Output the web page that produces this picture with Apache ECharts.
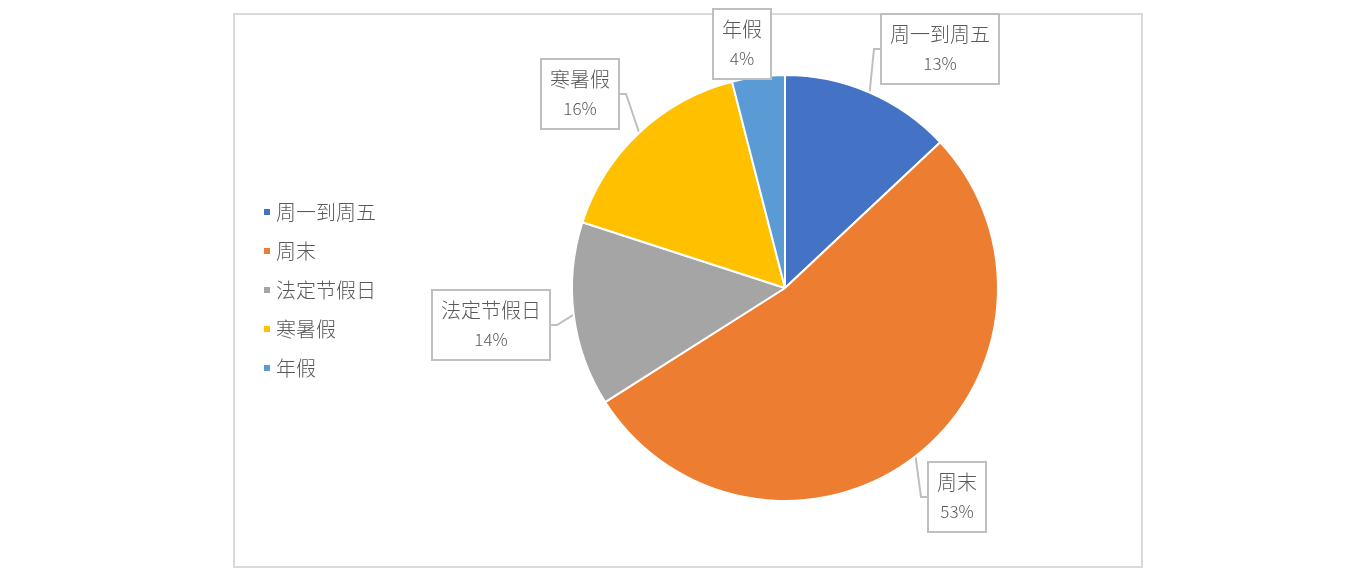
<!DOCTYPE html>
<html>
<head>
<meta charset="utf-8">
<script src="https://cdn.jsdelivr.net/npm/echarts@6/dist/echarts.min.js"></script>
<style>
html,body{margin:0;padding:0;background:#fff;}
#main{width:1352px;height:582px;}
#frame{position:absolute;left:233px;top:13px;width:906px;height:551px;border:2px solid #d9d9d9;}
</style>
</head>
<body>
<div id="frame"></div>
<div id="main" style="position:absolute;left:0;top:0;"></div>
<script>
// 数据
var categories = ['周一到周五', '周末', '法定节假日', '寒暑假', '年假'];
var values = [13, 53, 14, 16, 4];
var colors = ['#4472C4', '#ED7D31', '#A5A5A5', '#FFC000', '#5B9BD5'];

// 标签框中心位置 (像素)
var labelCenters = [[940, 49], [957, 497], [491, 325], [580, 94], [742, 44]];

var chart = echarts.init(document.getElementById('main'));
var font = '"Noto Sans CJK SC", "Microsoft YaHei", sans-serif';

chart.setOption({
  animation: false,
  color: colors,
  legend: {
    orient: 'vertical',
    left: 257,
    top: 197,
    itemWidth: 8,
    itemHeight: 8,
    itemGap: 19,
    icon: 'rect',
    textStyle: { fontFamily: font, fontSize: 20, fontWeight: 300, color: '#595959' },
    data: categories
  },
  series: [{
    type: 'pie',
    center: [785, 288],
    radius: 213,
    startAngle: 90,
    clockwise: true,
    itemStyle: { borderColor: '#fff', borderWidth: 2 },
    label: {
      show: true,
      formatter: function (p) { return '{n|' + p.name + '}\n{p|' + p.value + '%}'; },
      fontFamily: font,
      color: '#595959',
      backgroundColor: '#fff',
      borderColor: '#bfbfbf',
      borderWidth: 2,
      padding: [4, 8, 4, 8],
      align: 'center',
      rich: {
        n: { fontFamily: font, fontSize: 20, fontWeight: 300, lineHeight: 30, color: '#595959' },
        p: { fontFamily: font, fontSize: 17, fontWeight: 300, lineHeight: 30, color: '#595959' }
      }
    },
    labelLine: {
      show: true,
      length: 10,
      length2: 6,
      lineStyle: { color: '#bfbfbf', width: 2 }
    },
    labelLayout: function (params) {
      var c = labelCenters[params.dataIndex];
      return { x: c[0], y: c[1], align: 'center', verticalAlign: 'middle' };
    },
    emphasis: { disabled: true },
    data: categories.map(function (n, i) { return { name: n, value: values[i] }; })
  }]
});
</script>
</body>
</html>
